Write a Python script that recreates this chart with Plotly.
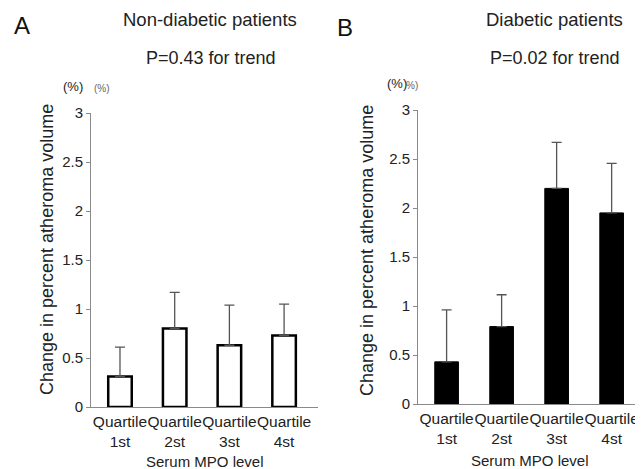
import plotly.graph_objects as go

# ---------------- data ----------------
categories = ["Quartile<br>1st", "Quartile<br>2st", "Quartile<br>3st", "Quartile<br>4st"]
nondiabetic_mean = [0.31, 0.80, 0.63, 0.73]
nondiabetic_err = [0.30, 0.37, 0.41, 0.32]
diabetic_mean = [0.43, 0.79, 2.20, 1.95]
diabetic_err = [0.53, 0.325, 0.47, 0.505]
y_ticks = [0, 0.5, 1, 1.5, 2, 2.5, 3]
y_ticklabels = ["0", "0.5", "1", "1.5", "2", "2.5", "3"]

# page body has an 8px margin: the figure is placed at (8, 8)
OFF = 8
W, H = 643 - OFF, 469 - OFF
FONT = "Liberation Sans, Arial, Helvetica, sans-serif"


def px(x):
    return (x - OFF) / W


def py(y):
    return 1 - (y - OFF) / H


fig = go.Figure()

fig.add_trace(go.Bar(
    x=list(range(4)), y=nondiabetic_mean, width=0.43,
    marker=dict(color="white", line=dict(color="black", width=2.5)),
    error_y=dict(type="data", symmetric=False, array=nondiabetic_err,
                 arrayminus=[0, 0, 0, 0], color="#555555", thickness=1.3, width=5),
    xaxis="x", yaxis="y", showlegend=False,
))
fig.add_trace(go.Bar(
    x=list(range(4)), y=diabetic_mean, width=0.43,
    marker=dict(color="black", line=dict(color="black", width=1)),
    error_y=dict(type="data", symmetric=False, array=diabetic_err,
                 arrayminus=[0, 0, 0, 0], color="#555555", thickness=1.3, width=5),
    xaxis="x2", yaxis="y2", showlegend=False,
))

xcommon = dict(
    tickmode="array", tickvals=list(range(4)), ticktext=categories,
    showline=True, linecolor="#8a8a8a", linewidth=1, ticks="", tickangle=0,
    showgrid=False, zeroline=False, fixedrange=True, automargin=False,
    tickfont=dict(family=FONT, size=15.5, color="#222222"),
)
ycommon = dict(
    range=[0, 3], tickmode="array", tickvals=y_ticks, ticktext=y_ticklabels,
    showline=True, linecolor="#8a8a8a", linewidth=1, ticks="outside",
    ticklen=4, tickcolor="#8a8a8a", showgrid=False, zeroline=False,
    automargin=False, fixedrange=True,
    tickfont=dict(family=FONT, size=15, color="#222222"),
)

fig.update_layout(
    width=W, height=H, margin=dict(l=0, r=0, t=0, b=0, pad=0, autoexpand=False),
    paper_bgcolor="white", plot_bgcolor="white",
    bargap=0.5, showlegend=False,
    xaxis=dict(domain=[px(91), px(318)], range=[-0.53, 3.62], anchor="y", **xcommon),
    yaxis=dict(domain=[py(407), py(113)], anchor="x", **ycommon),
    xaxis2=dict(domain=[px(418), 1.0], range=[-0.52, 3.57], anchor="y2", **xcommon),
    yaxis2=dict(domain=[py(404), py(110)], anchor="x2", **ycommon),
)

ann = []


def txt(text, x, y, size, color="#222222", angle=0):
    ann.append(dict(text=text, x=px(x), y=py(y), xref="paper", yref="paper",
                    showarrow=False, xanchor="center", yanchor="middle",
                    textangle=angle, font=dict(family=FONT, size=size, color=color)))


txt("A", 22, 26, 24, "#111111")
txt("B", 345, 27, 24, "#111111")
txt("Non-diabetic patients", 210, 20, 18.5)
txt("P=0.43 for trend", 211, 58, 18)
txt("Diabetic patients", 554, 20, 18.5)
txt("P=0.02 for trend", 555, 58, 18)
txt("(%)", 73, 86, 13)
txt("(%)", 102, 88, 10, "#666666")
txt("(%)", 397, 84, 13)
txt("%)", 412, 85, 10, "#666666")
txt("Change in percent atheroma volume", 47, 250, 18, angle=-90)
txt("Change in percent atheroma volume", 367, 250, 18, angle=-90)
txt("Serum MPO level", 205, 461, 15)
txt("Serum MPO level", 530, 460, 15)

fig.update_layout(annotations=ann)
fig.write_html("out.html")
